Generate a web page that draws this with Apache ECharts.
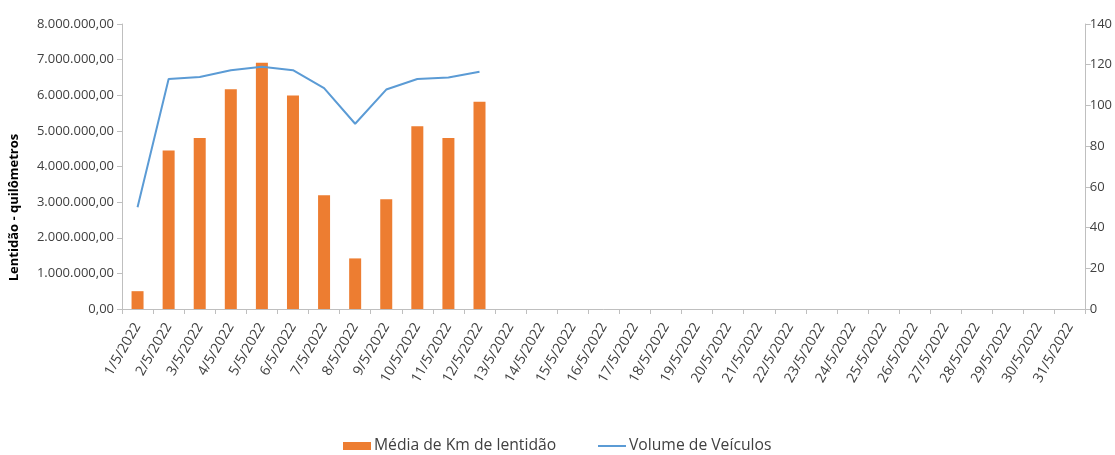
<!DOCTYPE html>
<html>
<head>
<meta charset="utf-8">
<script src="https://cdn.jsdelivr.net/npm/echarts@6/dist/echarts.min.js"></script>
<style>html,body{margin:0;padding:0;background:#fff}#c{width:1115px;height:455px}</style>
</head>
<body>
<div id="c"></div>
<script>
var categories = ['1/5/2022','2/5/2022','3/5/2022','4/5/2022','5/5/2022','6/5/2022','7/5/2022','8/5/2022','9/5/2022','10/5/2022','11/5/2022','12/5/2022','13/5/2022','14/5/2022','15/5/2022','16/5/2022','17/5/2022','18/5/2022','19/5/2022','20/5/2022','21/5/2022','22/5/2022','23/5/2022','24/5/2022','25/5/2022','26/5/2022','27/5/2022','28/5/2022','29/5/2022','30/5/2022','31/5/2022'];
var mediaKm = [500000, 4450000, 4800000, 6170000, 6910000, 5990000, 3190000, 1420000, 3080000, 5130000, 4800000, 5820000, null, null, null, null, null, null, null, null, null, null, null, null, null, null, null, null, null, null, null];
var volume = [50, 113, 114, 117.3, 119, 117.3, 108.5, 91, 107.8, 113, 113.7, 116.5, null, null, null, null, null, null, null, null, null, null, null, null, null, null, null, null, null, null, null];
var seriesNames = ['Média de Km de lentidão', 'Volume de Veículos'];
var leftAxisName = 'Lentidão - quilômetros';

function fmtBR(v){
  var s = Math.round(v).toString().replace(/\B(?=(\d{3})+(?!\d))/g, '.');
  return s + ',00';
}
var txt = '#404040';
var axisCol = '#BFBFBF';
var chart = echarts.init(document.getElementById('c'));
chart.setOption({
  animation: false,
  textStyle: {fontFamily: 'Open Sans'},
  grid: {left: 119, right: 27, top: 24, bottom: 146},
  legend: [{
    top: 438, left: 343, padding: 0, itemWidth: 28, itemHeight: 8,
    textStyle: {color: txt, fontSize: 15.7, fontFamily: 'Open Sans', padding: [0, 0, 0, -2]},
    data: [{name: seriesNames[0], icon: 'rect'}]
  }, {
    top: 438, left: 598, padding: 0, itemWidth: 28, itemHeight: 2,
    textStyle: {color: txt, fontSize: 15.7, fontFamily: 'Open Sans', padding: [0, 0, 0, -2]},
    data: [{name: seriesNames[1], icon: 'rect'}]
  }],
  xAxis: {
    type: 'category', data: categories,
    axisLine: {lineStyle: {color: axisCol}},
    axisTick: {show: true, alignWithLabel: false, length: 5, lineStyle: {color: axisCol}},
    axisLabel: {interval: 0, rotate: 60, color: txt, fontSize: 14, margin: 15}
  },
  yAxis: [{
    type: 'value', min: 0, max: 8000000, interval: 1000000,
    name: leftAxisName, nameLocation: 'middle', nameGap: 101,
    nameTextStyle: {fontWeight: 'bold', color: '#000', fontSize: 13, padding: [0, 82, 0, 0]},
    axisLine: {show: true, lineStyle: {color: axisCol}},
    axisTick: {show: true, length: 5, lineStyle: {color: axisCol}},
    splitLine: {show: false},
    axisLabel: {color: txt, fontSize: 13, margin: 8, formatter: fmtBR}
  }, {
    type: 'value', min: 0, max: 140, interval: 20, position: 'right',
    axisLine: {show: true, lineStyle: {color: axisCol}},
    axisTick: {show: true, length: 5, lineStyle: {color: axisCol}},
    splitLine: {show: false},
    axisLabel: {color: txt, fontSize: 13, margin: 4}
  }],
  series: [{
    name: seriesNames[0], type: 'bar', data: mediaKm, barWidth: 12,
    itemStyle: {color: '#ED7D31'}
  }, {
    name: seriesNames[1], type: 'line', yAxisIndex: 1, data: volume,
    symbol: 'none', lineStyle: {color: '#5B9BD5', width: 2}, itemStyle: {color: '#5B9BD5'}
  }]
});
</script>
</body>
</html>
